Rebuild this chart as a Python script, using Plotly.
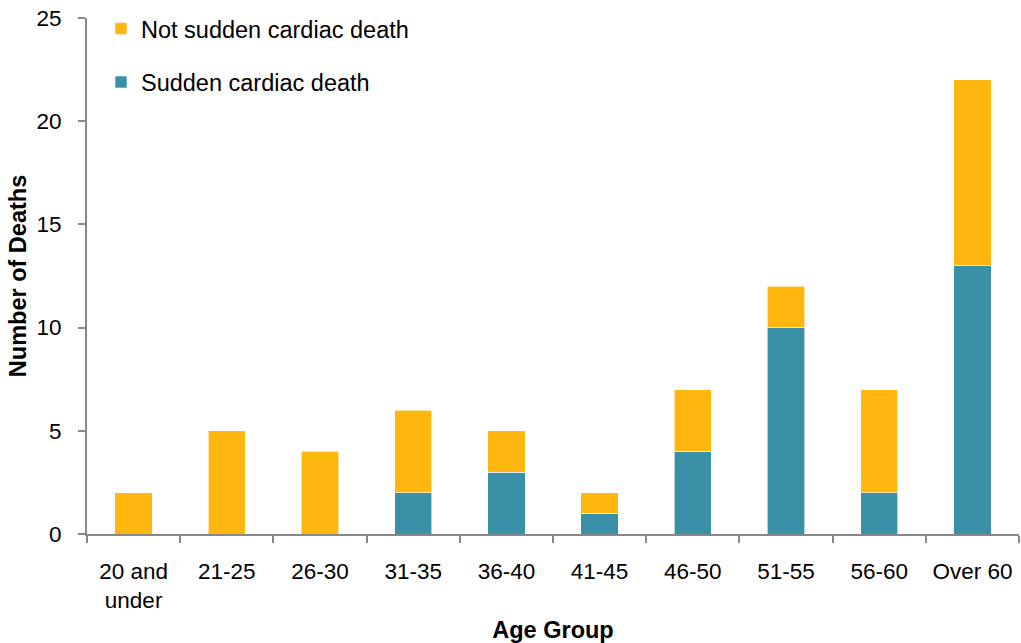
import plotly.graph_objects as go

categories = ["20 and<br>under", "21-25", "26-30", "31-35", "36-40", "41-45",
              "46-50", "51-55", "56-60", "Over 60"]
sudden = [0, 0, 0, 2, 3, 1, 4, 10, 2, 13]
not_sudden = [2, 5, 4, 4, 2, 1, 3, 2, 5, 9]

teal = "#3A91A7"
orange = "#FFB60E"

fig = go.Figure()
fig.add_trace(go.Bar(x=categories, y=sudden, name="Sudden cardiac death",
                     marker=dict(color=teal, line=dict(color="#FFFFFF", width=0.6)),
                     legendgroup="a", legendrank=2))
fig.add_trace(go.Bar(x=categories, y=not_sudden, name="Not sudden cardiac death",
                     marker=dict(color=orange, line=dict(color="#FFFFFF", width=0.6)),
                     legendgroup="b", legendrank=1))

font = "Liberation Sans, Arial, sans-serif"
fs = 23.5
tfs = 22.5
fig.update_layout(
    barmode="stack",
    bargap=0.6,
    width=1021, height=643,
    margin=dict(l=87, r=2, t=18, b=109, autoexpand=False),
    plot_bgcolor="white", paper_bgcolor="white",
    font=dict(family=font, size=fs, color="#000000"),
    legend=dict(x=0.015, y=1.022, xanchor="left", yanchor="top",
                traceorder="grouped", tracegroupgap=20,
                font=dict(size=fs), bgcolor="rgba(0,0,0,0)"),
    xaxis=dict(
        showline=True, linecolor="#888888", linewidth=2,
        ticks="outside", ticklen=7, tickcolor="#888888", tickwidth=2,
        tickson="boundaries", ticklabelstandoff=16, tickangle=0,
        tickfont=dict(size=tfs), automargin=False,
        title=dict(text="<b>Age Group</b>", font=dict(size=fs), standoff=10),
    ),
    yaxis=dict(
        range=[0, 25], dtick=5,
        showline=True, linecolor="#888888", linewidth=2,
        ticks="outside", ticklen=7, tickcolor="#888888", tickwidth=2,
        showgrid=False, zeroline=False, automargin=False,
        ticklabelstandoff=12,
        tickfont=dict(size=tfs),
        title=dict(text="<b>Number of Deaths</b>", font=dict(size=fs), standoff=3),
    ),
)

fig.write_html("out.html", config={"displayModeBar": False},
               post_script="document.body.style.margin='0';document.body.style.overflow='hidden';")
